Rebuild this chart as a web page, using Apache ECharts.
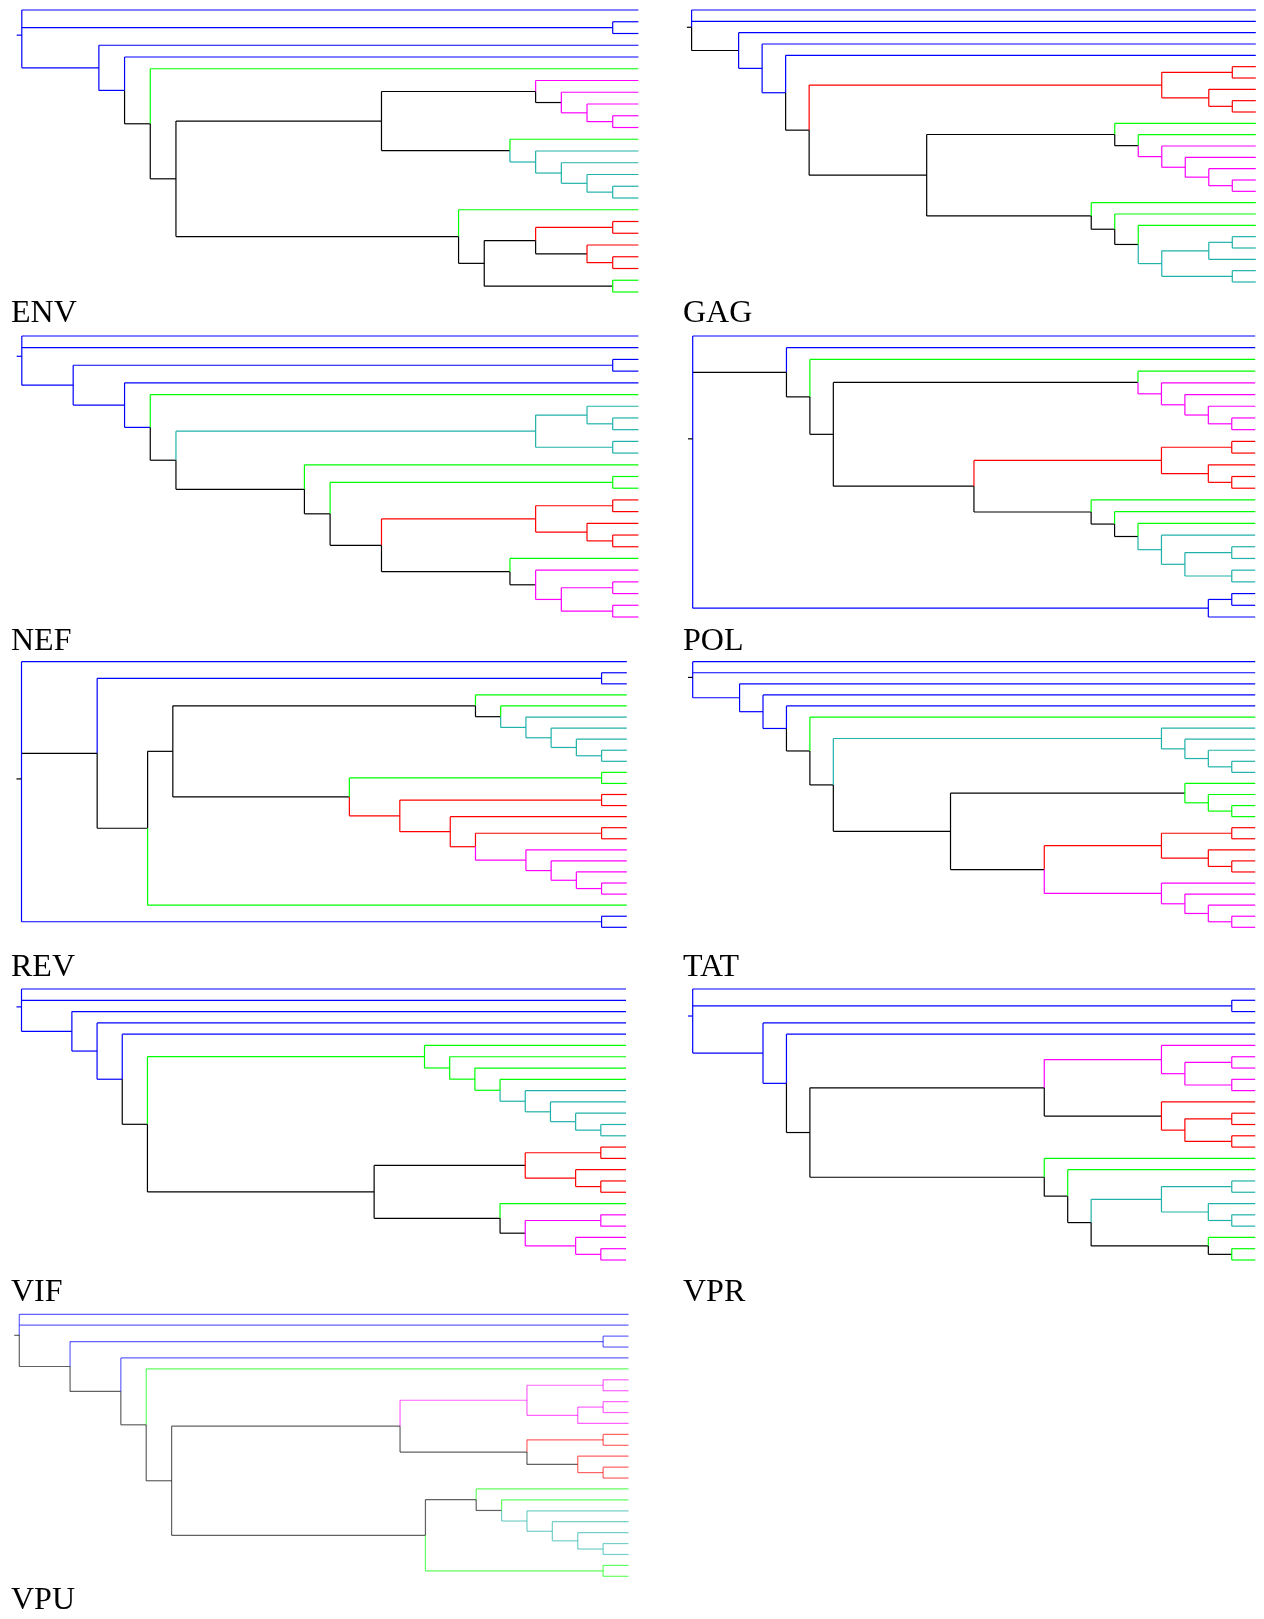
<!DOCTYPE html>
<html><head><meta charset="utf-8">
<script src="https://cdn.jsdelivr.net/npm/echarts@6/dist/echarts.min.js"></script>
<style>html,body{margin:0;padding:0;background:#fff}#chart{width:1264px;height:1619px}</style>
</head><body><div id="chart"></div>
<script>
// ---- DATA ----
// Panel titles
const genes = ['ENV', 'GAG', 'NEF', 'POL', 'REV', 'TAT', 'VIF', 'VPR', 'VPU'];
// Trees in a Newick-like notation: a leaf is a colour code, an internal node is
// "(child,child,...)c" where c is the colour of the branch leading to that node.
// Colour codes: b blue, g green, m magenta, t teal, r red, k black.
const envTree = "(b,(b,b)b,(b,(b,(g,(((m,(m,(m,(m,m)m)m)k)k,(g,(t,(t,(t,(t,t)t)t)t)t)k)k,(g,(((r,r)r,(r,(r,r)r)k)k,(g,g)k)k)k)k)k)b)b)b";
const gagTree = "(b,b,(b,(b,(b,(((r,r)r,(r,(r,r)r)r)r,((g,(g,(m,(m,(m,(m,m)m)m)m)m)k)k,(g,(g,(g,(((t,t)t,t)t,(t,t)t)t)k)k)k)k)k)b)b)k)k";
const nefTree = "(b,b,((b,b)b,(b,(g,(((t,(t,t)t)t,(t,t)t)t,(g,((g,g)g,(((r,r)r,(r,(r,r)r)r)r,(g,(m,((m,m)m,(m,m)m)m)k)k)k)k)k)k)b)b)b)b";
const polTree = "(b,(b,(g,((g,(m,(m,(m,(m,m)m)m)m)m)k,(((r,r)r,(r,(r,r)r)r)r,(g,(g,(g,(t,((t,t)t,(t,t)t)t)t)k)k)k)k)k)k)k,((b,b)b,b)b)k";
const revTree = "(b,((b,b)b,(((g,(g,(t,(t,(t,(t,t)t)t)t)t)k)k,((g,g)g,((r,r)r,(r,((r,r)r,(m,(m,(m,(m,m)m)m)m)m)r)r)r)k)k,g)k)k,(b,b)b)k";
const tatTree = "(b,b,(b,(b,(b,(g,((t,(t,(t,(t,t)t)t)t)t,((g,(g,(g,g)g)g)k,(((r,r)r,(r,(r,r)r)r)r,(m,(m,(m,(m,m)m)m)m)m)k)k)k)k)b)b)b)k";
const vifTree = "(b,b,(b,(b,(b,((g,(g,(g,(g,(t,(t,(t,(t,t)t)t)t)t)g)g)g)g,(((r,r)r,(r,(r,r)r)r)k,(g,((m,m)m,(m,(m,m)m)m)k)k)k)k)b)b)b)b";
const vprTree = "(b,(b,b)b,(b,(b,(((m,((m,m)m,(m,m)m)m)m,(r,((r,r)r,(r,r)r)r)k)k,(g,(g,(((t,t)t,(t,(t,t)t)t)t,(g,(g,g)k)k)k)k)k)k)b)b)b";
const vpuTree = "(b,b,((b,b)b,(b,(g,((((m,m)m,((m,m)m,m)m)m,((r,r)r,(r,(r,r)r)k)k)k,((g,(g,(t,(t,(t,(t,t)t)t)t)t)k)k,(g,g)g)k)k)k)k)k)k";
const trees = [envTree, gagTree, nefTree, polTree, revTree, tatTree, vifTree, vprTree, vpuTree];

// ---- STYLE / LAYOUT ----
const branchColors = { b: '#0000ff', g: '#00ff00', m: '#ff00ff', t: '#20b2aa', r: '#ff0000', k: '#000000' };
const panels = [
  { left: 21.8, top: 10,     width: 616.6, height: 282,   lx: 11,  ly: 298,  alpha: 1 },
  { left: 691.6, top: 10,    width: 564.2, height: 272,   lx: 683, ly: 298,  alpha: 1 },
  { left: 21.8, top: 336,    width: 616.6, height: 281,   lx: 11,  ly: 626,  alpha: 1 },
  { left: 692.7, top: 336,   width: 562.5, height: 281,   lx: 683, ly: 626,  alpha: 1 },
  { left: 21.5, top: 661.7,  width: 605.3, height: 265.6, lx: 11,  ly: 952,  alpha: 1 },
  { left: 692.7, top: 661.7, width: 562.5, height: 265.6, lx: 683, ly: 952,  alpha: 1 },
  { left: 21.5, top: 989,    width: 604.5, height: 271,   lx: 11,  ly: 1277, alpha: 1 },
  { left: 692.7, top: 989,   width: 562.5, height: 271,   lx: 683, ly: 1277, alpha: 1 },
  { left: 19.3, top: 1314.3, width: 609.2, height: 262,   lx: 11,  ly: 1585, alpha: 0.62 }
];

// ---- TREE HANDLING ----
function parseTree(s) {
  let i = 0;
  function node() {
    if (s[i] === '(') {
      i++;
      const kids = [];
      for (;;) {
        kids.push(node());
        if (s[i] === ',') { i++; } else { i++; break; }
      }
      return { kids: kids, col: s[i++] };
    }
    return { col: s[i++] };
  }
  return node();
}
function layoutTree(root) {
  let leaf = 0;
  (function walk(n) {
    if (!n.kids) { n.tips = 1; n.y = ++leaf; return; }
    n.kids.forEach(walk);
    n.tips = n.kids.reduce((a, k) => a + k.tips, 0);
    n.y = n.kids.reduce((a, k) => a + k.y, 0) / n.kids.length;
  })(root);
  const N = root.tips;
  (function setx(n) { n.x = N - n.tips; if (n.kids) n.kids.forEach(setx); })(root);
  return N;
}
function segmentsOf(root) {
  const segs = [];
  (function walk(n) {
    if (!n.kids) return;
    const f = n.kids[0], l = n.kids[n.kids.length - 1];
    n.kids.forEach(k => segs.push([n.x, k.y, k.x, k.y, k.col]));
    if (f.col === l.col) segs.push([n.x, f.y, n.x, l.y, f.col]);
    else { segs.push([n.x, f.y, n.x, n.y, f.col]); segs.push([n.x, n.y, n.x, l.y, l.col]); }
    n.kids.forEach(walk);
  })(root);
  segs.push([root.x - 0.2, root.y, root.x, root.y, root.col]);
  return segs;
}

const grids = [], xAxes = [], yAxes = [], series = [], graphics = [];
trees.forEach((str, i) => {
  const root = parseTree(str);
  const N = layoutTree(root);
  const segs = segmentsOf(root);
  const p = panels[i];
  grids.push({ left: p.left, top: p.top, width: p.width, height: p.height, containLabel: false });
  xAxes.push({ type: 'value', gridIndex: i, min: 0, max: N - 1, show: false });
  yAxes.push({ type: 'value', gridIndex: i, min: 1, max: N, inverse: true, show: false });
  series.push({
    type: 'custom', xAxisIndex: i, yAxisIndex: i, clip: false, silent: true,
    data: segs.map(s => [s[0], s[1], s[2], s[3]]),
    renderItem: function (params, api) {
      const s = segs[params.dataIndex];
      const a = api.coord([api.value(0), api.value(1)]);
      const b = api.coord([api.value(2), api.value(3)]);
      return {
        type: 'line',
        shape: { x1: a[0], y1: a[1], x2: b[0], y2: b[1] },
        style: { stroke: branchColors[s[4]], lineWidth: 1.2, opacity: p.alpha }
      };
    }
  });
  graphics.push({
    type: 'text', left: p.lx, top: p.ly,
    style: { text: genes[i], fontSize: 32, fontFamily: 'Liberation Serif', fill: '#000' }
  });
});

const chart = echarts.init(document.getElementById('chart'), null, { renderer: 'canvas' });
chart.setOption({
  animation: false,
  backgroundColor: '#fff',
  grid: grids, xAxis: xAxes, yAxis: yAxes, series: series, graphic: graphics
});
</script>
</body></html>
